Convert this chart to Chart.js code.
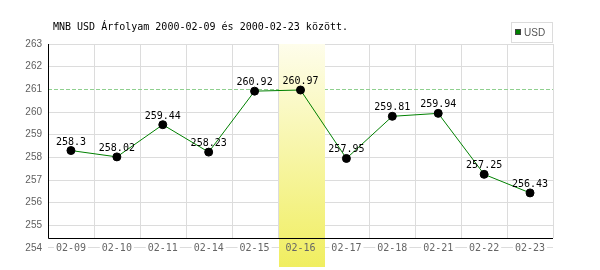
<!DOCTYPE html>
<html>
<head>
<meta charset="utf-8">
<script src="https://cdn.jsdelivr.net/npm/chart.js@4/dist/chart.umd.min.js"></script>
<style>
  html, body { margin: 0; padding: 0; background: #fff; }
  #wrap { width: 600px; height: 270px; }
</style>
</head>
<body>
<div id="wrap"><canvas id="rate-chart" width="600" height="270"></canvas></div>
<script>
// --- DATA ---
const dates = ['02-09', '02-10', '02-11', '02-14', '02-15', '02-16', '02-17', '02-18', '02-21', '02-22', '02-23'];
const usdRates = [258.3, 258.02, 259.44, 258.23, 260.92, 260.97, 257.95, 259.81, 259.94, 257.25, 256.43];
const yTicks = [254, 255, 256, 257, 258, 259, 260, 261, 262, 263];
const refLevel = 261;          // dashed green line
const highlightIndex = 5;      // highlighted day (02-16)
const titleText = 'MNB USD Árfolyam 2000-02-09 és 2000-02-23 között.';
const seriesName = 'USD';

const MONO = '"DejaVu Sans Mono", monospace';
const GRID = '#dcdcdc';

// --- DECORATION PLUGIN ---
const decorations = {
    id: 'decorations',
    beforeDatasetsDraw(chart) {
        const { ctx, chartArea } = chart;
        const x = chart.scales.x, y = chart.scales.y;
        const axisY = chartArea.bottom - 10;
        const half = (x.getPixelForTick(1) - x.getPixelForTick(0)) / 2;
        ctx.save();

        // vertical grid lines between categories
        ctx.strokeStyle = GRID;
        ctx.lineWidth = 1;
        for (let i = 0; i <= dates.length; i++) {
            const px = Math.round(x.getPixelForTick(0) - half + i * half * 2) + 0.5;
            ctx.beginPath();
            ctx.moveTo(px, chartArea.top);
            ctx.lineTo(px, axisY);
            ctx.stroke();
        }

        // bottom grid line, broken where the date labels sit
        const by = Math.round(y.getPixelForValue(yTicks[0])) - 0.5;
        ctx.font = '10px ' + MONO;
        let from = chartArea.left;
        dates.forEach((d, i) => {
            const w = ctx.measureText(d).width + 4;
            const cx = x.getPixelForTick(i);
            ctx.beginPath();
            ctx.moveTo(from, by);
            ctx.lineTo(cx - w / 2, by);
            ctx.stroke();
            from = cx + w / 2;
        });
        ctx.beginPath();
        ctx.moveTo(from, by);
        ctx.lineTo(chartArea.right, by);
        ctx.stroke();

        // reference dashed line
        const ry = Math.round(y.getPixelForValue(refLevel)) + 0.5;
        ctx.strokeStyle = '#8fd08f';
        ctx.setLineDash([4, 2]);
        ctx.beginPath();
        ctx.moveTo(chartArea.left, ry);
        ctx.lineTo(chartArea.right, ry);
        ctx.stroke();
        ctx.setLineDash([]);

        // highlighted column
        const hx = x.getPixelForTick(highlightIndex);
        const grad = ctx.createLinearGradient(0, chartArea.top, 0, chart.height - 3);
        grad.addColorStop(0, 'rgb(254,253,235)');
        grad.addColorStop(1, 'rgb(240,238,96)');
        ctx.fillStyle = grad;
        ctx.fillRect(Math.round(hx - half) + 1, chartArea.top, Math.round(half * 2), chart.height - 3 - chartArea.top);

        // black axis lines
        ctx.strokeStyle = '#000';
        ctx.beginPath();
        ctx.moveTo(chartArea.left + 0.5, chartArea.top);
        ctx.lineTo(chartArea.left + 0.5, axisY + 0.5);
        ctx.lineTo(chartArea.right, axisY + 0.5);
        ctx.stroke();

        // date labels, centred on the bottom grid line
        ctx.fillStyle = '#666';
        ctx.textAlign = 'center';
        ctx.textBaseline = 'middle';
        dates.forEach((d, i) => ctx.fillText(d, x.getPixelForTick(i), by + 0.5));
        ctx.restore();
    },
    afterDatasetsDraw(chart) {
        const { ctx } = chart;
        const meta = chart.getDatasetMeta(0);
        ctx.save();
        ctx.font = '10px ' + MONO;
        ctx.fillStyle = '#000';
        ctx.textAlign = 'center';
        ctx.textBaseline = 'alphabetic';
        meta.data.forEach((pt, i) => {
            ctx.fillText(String(usdRates[i]), pt.x, pt.y - 6);
        });
        ctx.restore();
    },
    afterDraw(chart) {
        const { ctx } = chart;
        ctx.save();
        // title
        ctx.fillStyle = '#000';
        ctx.font = '10px ' + MONO;
        ctx.textBaseline = 'middle';
        ctx.textAlign = 'left';
        ctx.fillText(titleText, 53, 27);

        // legend box
        ctx.strokeStyle = GRID;
        ctx.strokeRect(511.5, 22.5, 41, 20);
        ctx.fillStyle = '#008000';
        ctx.fillRect(515, 29, 6, 6);
        ctx.strokeStyle = '#444';
        ctx.strokeRect(515.5, 29.5, 5, 5);
        ctx.fillStyle = '#555';
        ctx.font = '10px "Liberation Sans Narrow", "Liberation Sans", sans-serif';
        ctx.fillText(seriesName, 524, 33);
        ctx.restore();
    }
};

// --- CHART ---
const ctx = document.getElementById('rate-chart').getContext('2d');
new Chart(ctx, {
    type: 'line',
    data: {
        labels: dates,
        datasets: [{
            label: seriesName,
            data: usdRates,
            borderColor: '#008000',
            borderWidth: 1,
            tension: 0,
            fill: false,
            pointRadius: 4,
            pointHoverRadius: 4,
            pointBackgroundColor: '#000',
            pointBorderColor: '#000',
            pointBorderWidth: 1
        }]
    },
    options: {
        responsive: false,
        animation: false,
        layout: { padding: { top: 44, right: 47, left: 0, bottom: 0 } },
        plugins: {
            legend: { display: false },
            title: { display: false },
            tooltip: { enabled: false }
        },
        scales: {
            x: {
                offset: true,
                grid: { display: false },
                border: { display: false },
                afterFit(s) { s.height = 22; },
                ticks: { display: false }
            },
            y: {
                min: yTicks[0],
                max: yTicks[yTicks.length - 1],
                afterFit(s) { s.width = 48; },
                afterBuildTicks(s) { s.ticks = yTicks.map(v => ({ value: v })); },
                grid: {
                    color: c => (c.tick && (c.tick.value === refLevel || c.tick.value === yTicks[0])) ? 'rgba(0,0,0,0)' : GRID,
                    drawTicks: false
                },
                border: { display: false },
                ticks: {
                    padding: 6,
                    color: '#606060',
                    font: { family: '"Liberation Sans", Arial, sans-serif', size: 10 }
                }
            }
        }
    },
    plugins: [decorations]
});
</script>
</body>
</html>
